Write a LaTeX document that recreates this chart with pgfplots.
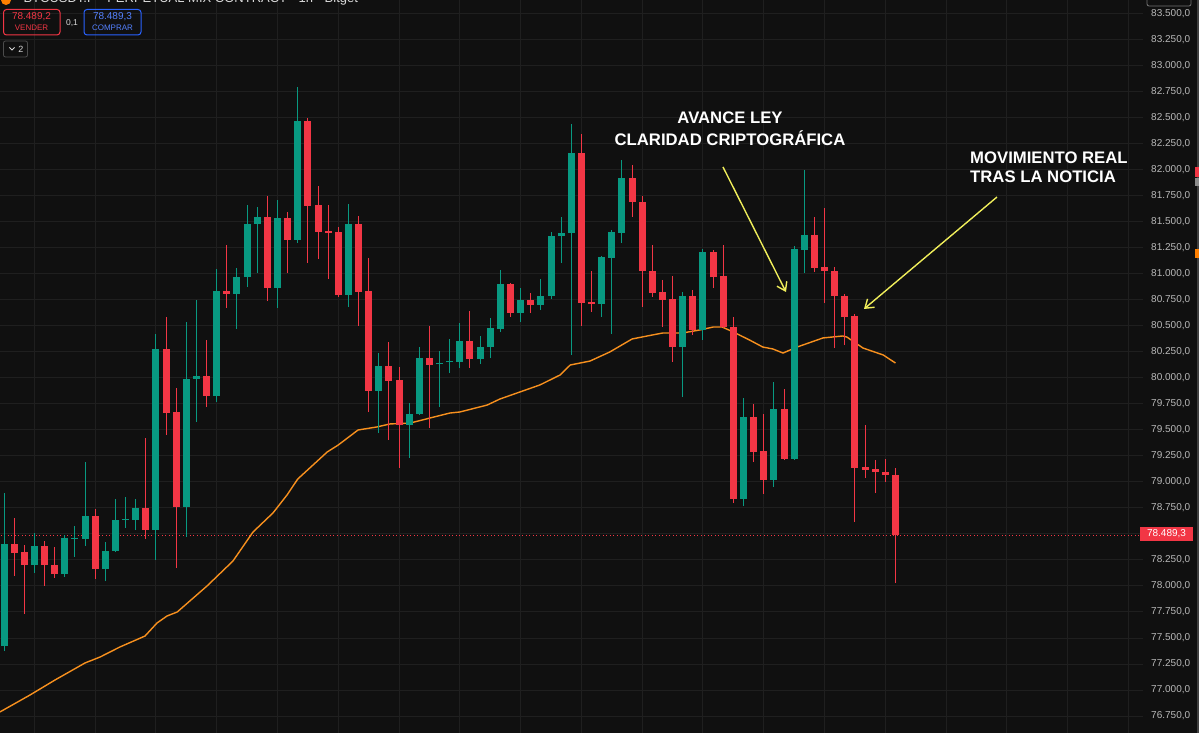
\documentclass[border=0pt]{standalone}
\usepackage{fontspec}
\setmainfont{Liberation Sans}
\usepackage{pgfplots}
\pgfplotsset{compat=1.18}
\usepackage{pgfplotstable}
\usetikzlibrary{arrows.meta}
\definecolor{bg}{RGB}{16,16,16}
\definecolor{gridc}{RGB}{31,31,31}
\definecolor{tvgreen}{RGB}{8,153,129}
\definecolor{tvred}{RGB}{242,54,69}
\definecolor{ema}{RGB}{247,144,30}
\definecolor{arrowy}{RGB}{240,238,90}
\definecolor{tickc}{RGB}{185,185,185}
\definecolor{tvblue}{RGB}{41,98,255}

\pgfplotstableread{
i o h l c
0 77423 78894 77375 78404
3 78202 78510 78125 78385
6 78115 78490 78087 78462
7 78455 78577 78279 78462
8 78452 79192 78385 78673
10 78163 78423 78048 78337
11 78337 78837 78330 78635
12 78640 78856 78558 78648
13 78635 78837 78538 78750
15 78538 80423 78250 80279
18 78760 80538 78471 79990
19 79995 80750 79577 80015
21 79827 81048 79769 80837
23 80808 81058 80471 80971
24 80971 81663 80875 81481
25 81481 81644 81010 81548
27 80865 81711 80673 81538
29 81327 82798 81298 82471
34 80798 81673 80683 81481
37 79875 80240 79471 80115
40 79548 79760 79231 79654
41 79654 80298 79645 80192
43 80130 80260 79721 80140
44 80150 80375 80048 80160
45 80154 80529 80096 80356
47 80183 80404 80135 80298
48 80298 80577 80192 80481
49 80471 81038 80442 80904
51 80625 80865 80538 80750
53 80702 80952 80654 80788
54 80788 81404 80760 81365
55 81365 81548 81106 81394
56 81394 82442 80221 82163
59 80711 81173 80587 81163
60 81154 81423 80423 81404
61 81394 82096 81298 81923
67 80298 80827 79817 80788
69 80462 81240 80365 81212
73 78837 79808 78769 79625
76 79019 79962 78952 79702
78 79221 81269 79210 81240
79 81231 82000 81010 81375
}\up

\pgfplotstableread{
i o h l c
1 78404 78654 78096 78317
2 78327 78394 77731 78202
4 78385 78433 78000 78202
5 78202 78375 78077 78115
9 78673 78740 78067 78163
14 78750 79423 78452 78538
16 80279 80587 79452 79663
17 79673 79904 78173 78760
20 80019 80365 79721 79827
22 80837 81279 80673 80808
26 81548 81750 80740 80865
28 81538 81596 81010 81327
30 82471 82500 81106 81654
31 81663 81846 81144 81404
32 81413 81663 80952 81394
33 81404 81452 80779 80798
35 81481 81558 80500 80827
36 80837 81154 79673 79875
38 80115 80346 79404 79971
39 79981 80106 79135 79548
42 80192 80500 79519 80125
46 80356 80644 80096 80183
50 80904 80913 80587 80625
52 80750 80817 80625 80702
57 82163 82346 80500 80721
58 80731 81029 80635 80711
62 81923 82048 81548 81692
63 81692 81750 80683 81029
64 81029 81279 80779 80817
65 80827 80942 80490 80750
66 80760 80981 80154 80298
68 80788 80846 80413 80462
70 81212 81231 80865 80971
71 80981 81279 80480 80490
72 80490 80587 78798 78837
74 79625 79750 79192 79288
75 79298 79654 78885 79019
77 79702 79894 79210 79221
80 81375 81548 81019 81058
81 81067 81635 80721 81029
82 81029 81067 80288 80788
83 80788 80808 80317 80587
84 80596 80615 78615 79135
85 79144 79548 79038 79115
86 79125 79212 78894 79096
87 79096 79221 79000 79067
88 79067 79135 78029 78489.3
}\down

\begin{document}
\begin{tikzpicture}[x=1pt,y=1pt]
\fill[bg] (0,0) rectangle (1199,733);
\useasboundingbox (0,0) rectangle (1199,733);
\begin{axis}[at={(0,0)}, anchor=south west, scale only axis,
  width=1143pt, height=733pt,
  xmin=-0.395, xmax=112.44, ymin=76586.6, ymax=83634.5,
  axis line style={draw=none},
  xtick={3,9,15,21,27,33,39,45,51,57,63,69,75,81,87,93,99,105,111}, xticklabels={},
  ytick={76750,77000,77250,77500,77750,78000,78250,78750,79000,79250,79500,79750,80000,80250,80500,80750,81000,81250,81500,81750,82000,82250,82500,82750,83000,83250,83500},
  extra y ticks={78500}, extra y tick labels={},
  extra tick style={grid=major},
  scaled y ticks=false,
  grid=major, major grid style={draw=gridc, line width=1pt},
  major tick length=0pt,
  yticklabel pos=right,
  yticklabel style={font=\fontsize{10}{12}\selectfont, text=tickc, anchor=west, xshift=4.7pt,
    /pgf/number format/fixed, /pgf/number format/fixed zerofill,
    /pgf/number format/precision=1, /pgf/number format/use comma,
    /pgf/number format/1000 sep={.}, /pgf/number format/assume math mode=true},
]
% current price dotted line
\addplot[tvred, line width=0.8pt, dash pattern=on 1pt off 2.5pt, forget plot] coordinates {(-1,78489.3) (113,78489.3)};
% EMA
\addplot[ema, line width=1.4pt, forget plot] coordinates {
(-0.4,76789) (2.57,76952) (5.03,77096) (8.0,77260) (9.48,77317) (11.45,77414)
(13.92,77519) (15.1,77644) (16.1,77712) (17.1,77750) (20.04,78000) (22.6,78240)
(24.58,78519) (26.55,78702) (27.94,78875) (29.0,79029) (31.9,79288) (33.0,79356)
(34.95,79500) (36.8,79529) (38.1,79558) (40.1,79567) (44.0,79663) (45.0,79673)
(47.7,79740) (48.96,79798) (52.9,79933) (54.9,80029) (55.9,80125) (57.85,80163)
(59.8,80250) (62.0,80375) (63.5,80404) (65.05,80433) (67.0,80433) (68.7,80462)
(70.0,80490) (70.9,80490) (72.0,80442) (73.6,80365) (74.9,80298) (75.9,80279)
(76.9,80240) (78.3,80298) (80.85,80385) (82.8,80404) (83.2,80394) (84.8,80288)
(86.8,80221) (88.0,80144)};
% wicks
\addplot[draw=none, mark=none, forget plot, error bars/.cd, y dir=plus, y explicit, error mark=none,
  error bar style={draw=tvgreen, line width=1pt}]
  table[x=i, y=l, y error plus expr={\thisrow{h}-\thisrow{l}}] {\up};
\addplot[draw=none, mark=none, forget plot, error bars/.cd, y dir=plus, y explicit, error mark=none,
  error bar style={draw=tvred, line width=1pt}]
  table[x=i, y=l, y error plus expr={\thisrow{h}-\thisrow{l}}] {\down};
% bodies
\addplot[draw=none, mark=none, forget plot, error bars/.cd, y dir=plus, y explicit, error mark=none,
  error bar style={draw=tvgreen, line width=7pt}]
  table[x=i, y expr={min(\thisrow{o},\thisrow{c})}, y error plus expr={abs(\thisrow{c}-\thisrow{o})}] {\up};
\addplot[draw=none, mark=none, forget plot, error bars/.cd, y dir=plus, y explicit, error mark=none,
  error bar style={draw=tvred, line width=7pt}]
  table[x=i, y expr={min(\thisrow{o},\thisrow{c})}, y error plus expr={abs(\thisrow{c}-\thisrow{o})}] {\down};
\end{axis}

% right edge details
\fill[black!75!white] (1196.5,0) rectangle (1199,733);
\fill[tvred] (1195,556) rectangle (1199,566);
\fill[black!45!white] (1195,547) rectangle (1199,555);
\fill[orange] (1195,475) rectangle (1199,484);
\draw[black!55!white, line width=0.8pt, rounded corners=2pt] (1147,727) rectangle (1191,740);

% current price label
\fill[tvred] (1140,192) rectangle (1193,206);
\node[text=white, font=\fontsize{10}{12}\selectfont] at (1166.5,199) {78.489,3};

% header (cropped at the top edge, as in the reference)
\node[anchor=base west, text=white!85!black, font=\fontsize{13}{15}\selectfont] at (20,730) {BTCUSDT.P · PERPETUAL MIX CONTRACT · 1h · Bitget};
\fill[orange] (6,733) circle (5);

% order boxes
\draw[tvred, line width=1pt, rounded corners=3pt] (3.5,698) rectangle (60,723.5);
\node[text=tvred, font=\fontsize{10}{12}\selectfont] at (31.5,716) {78.489,2};
\node[text=tvred, font=\fontsize{8}{10}\selectfont] at (31.5,705) {VENDER};
\node[text=white!85!black, font=\fontsize{8.5}{10}\selectfont] at (72,710) {0,1};
\draw[tvblue, line width=1pt, rounded corners=3pt] (84,698) rectangle (141,723.5);
\node[text=tvblue!80!white, font=\fontsize{10}{12}\selectfont] at (112.5,716) {78.489,3};
\node[text=tvblue!80!white, font=\fontsize{8}{10}\selectfont] at (112.5,705) {COMPRAR};
\draw[black!70!white, line width=0.8pt, rounded corners=2pt] (3.5,676) rectangle (27.5,692);
\draw[white!85!black, line width=0.9pt] (9.5,685.5) -- (12,683) -- (14.5,685.5);
\node[text=white!85!black, font=\fontsize{9}{10}\selectfont] at (21,684) {2};

% annotations
\node[text=white, font=\bfseries\fontsize{16.7}{20}\selectfont] at (730,615) {AVANCE LEY};
\node[text=white, font=\bfseries\fontsize{16.7}{20}\selectfont] at (730,595) {CLARIDAD CRIPTOGRÁFICA};
\node[anchor=west, inner sep=0pt, text=white, font=\bfseries\fontsize{16.7}{20}\selectfont] at (970,575) {MOVIMIENTO REAL};
\node[anchor=west, inner sep=0pt, text=white, font=\bfseries\fontsize{16.7}{20}\selectfont] at (970,556) {TRAS LA NOTICIA};
\draw[arrowy, line width=1.4pt, -{Straight Barb[length=8pt, width=11pt]}] (723,566) -- (786,441);
\draw[arrowy, line width=1.4pt, -{Straight Barb[length=8pt, width=11pt]}] (997,536) -- (864,424);
\end{tikzpicture}
\end{document}
